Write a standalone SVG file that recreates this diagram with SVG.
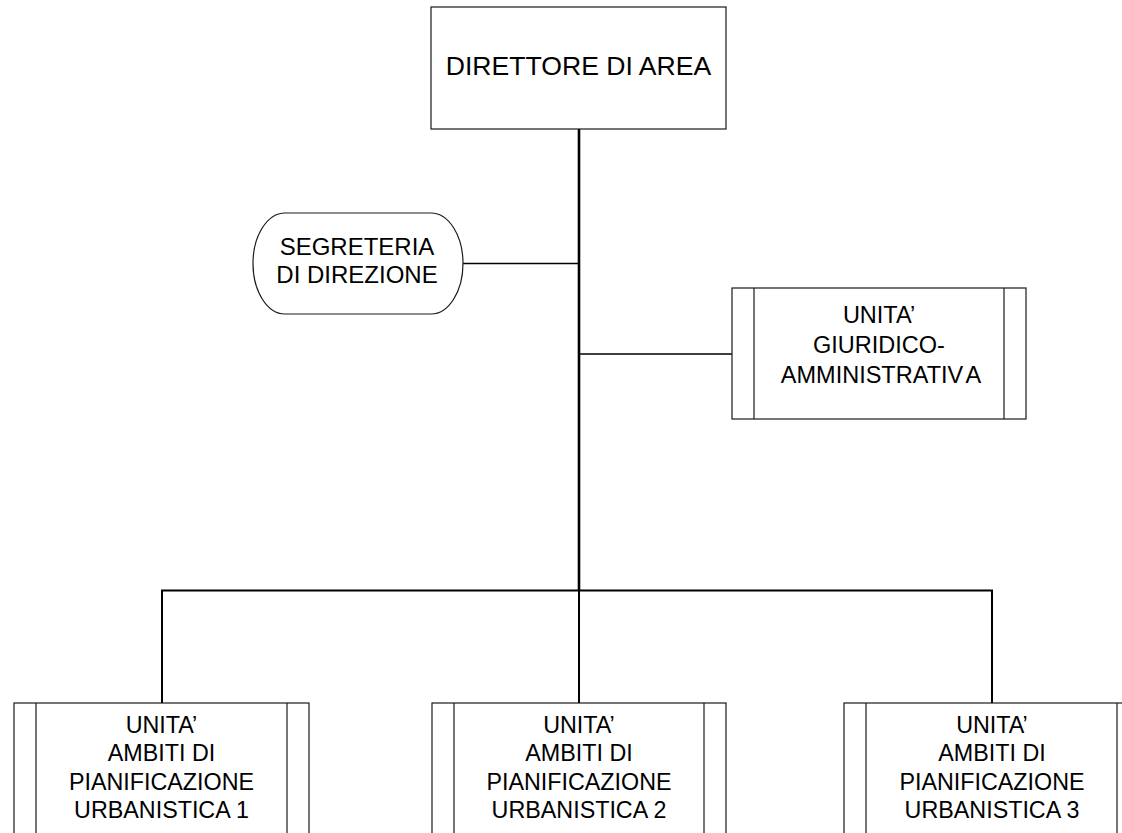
<svg xmlns="http://www.w3.org/2000/svg" width="1122" height="833" viewBox="0 0 1122 833">
<style>
.box{fill:#fff;stroke:#1a1a1a;stroke-width:1.2}
.t{font-family:"Liberation Sans",Arial,sans-serif;fill:#000;text-anchor:middle}
.c{fill:none;stroke:#000;stroke-width:2}
</style>
<rect width="1122" height="833" fill="#fff"/>
<g id="connectors">
<line class="c" x1="579" y1="129" x2="579" y2="591" style="stroke-width:2.6"/>
<line class="c" x1="463" y1="263.5" x2="579" y2="263.5" style="stroke-width:1.6"/>
<line class="c" x1="579" y1="354" x2="732" y2="354" style="stroke-width:1.6"/>
<polyline class="c" points="162,703 162,590.5 992,590.5 992,703"/>
<line class="c" x1="579" y1="590" x2="579" y2="703"/>
</g>
<g id="direttore">
<rect class="box" x="431" y="7" width="295" height="122"/>
<text class="t" x="578.5" y="75" font-size="26.6">DIRETTORE DI AREA</text>
</g>
<g id="segreteria">
<rect class="box" x="253" y="213" width="210" height="101" rx="32" ry="50.5"/>
<text class="t" x="357" y="255" font-size="24">SEGRETERIA</text>
<text class="t" x="357" y="283" font-size="24">DI DIREZIONE</text>
</g>
<g id="giuridico">
<rect class="box" x="732" y="288" width="294" height="131"/>
<line class="box" x1="754" y1="288" x2="754" y2="419"/>
<line class="box" x1="1004" y1="288" x2="1004" y2="419"/>
<text class="t" x="879" y="323" font-size="23.5">UNITA’</text>
<text class="t" x="879" y="353" font-size="23.5">GIURIDICO-</text>
<text class="t" x="881" y="383" font-size="23.5">AMMINISTRATIV<tspan dx="4">A</tspan></text>
</g>
<g id="unita1">
<rect class="box" x="14" y="703" width="295" height="140"/>
<line class="box" x1="36" y1="703" x2="36" y2="843"/>
<line class="box" x1="287" y1="703" x2="287" y2="843"/>
<text class="t" x="161.5" y="733" font-size="23.3">UNITA’</text>
<text class="t" x="161.5" y="761" font-size="23.3">AMBITI DI</text>
<text class="t" x="161.5" y="790" font-size="23.3">PIANIFICAZIONE</text>
<text class="t" x="161.5" y="818" font-size="23.3">URBANISTICA 1</text>
</g>
<g id="unita2">
<rect class="box" x="432" y="703" width="294" height="140"/>
<line class="box" x1="454" y1="703" x2="454" y2="843"/>
<line class="box" x1="704" y1="703" x2="704" y2="843"/>
<text class="t" x="579" y="733" font-size="23.3">UNITA’</text>
<text class="t" x="579" y="761" font-size="23.3">AMBITI DI</text>
<text class="t" x="579" y="790" font-size="23.3">PIANIFICAZIONE</text>
<text class="t" x="579" y="818" font-size="23.3">URBANISTICA 2</text>
</g>
<g id="unita3">
<rect class="box" x="844" y="703" width="295" height="140"/>
<line class="box" x1="866" y1="703" x2="866" y2="843"/>
<line class="box" x1="1117" y1="703" x2="1117" y2="843"/>
<text class="t" x="992" y="733" font-size="23.3">UNITA’</text>
<text class="t" x="992" y="761" font-size="23.3">AMBITI DI</text>
<text class="t" x="992" y="790" font-size="23.3">PIANIFICAZIONE</text>
<text class="t" x="992" y="818" font-size="23.3">URBANISTICA 3</text>
</g>
</svg>
